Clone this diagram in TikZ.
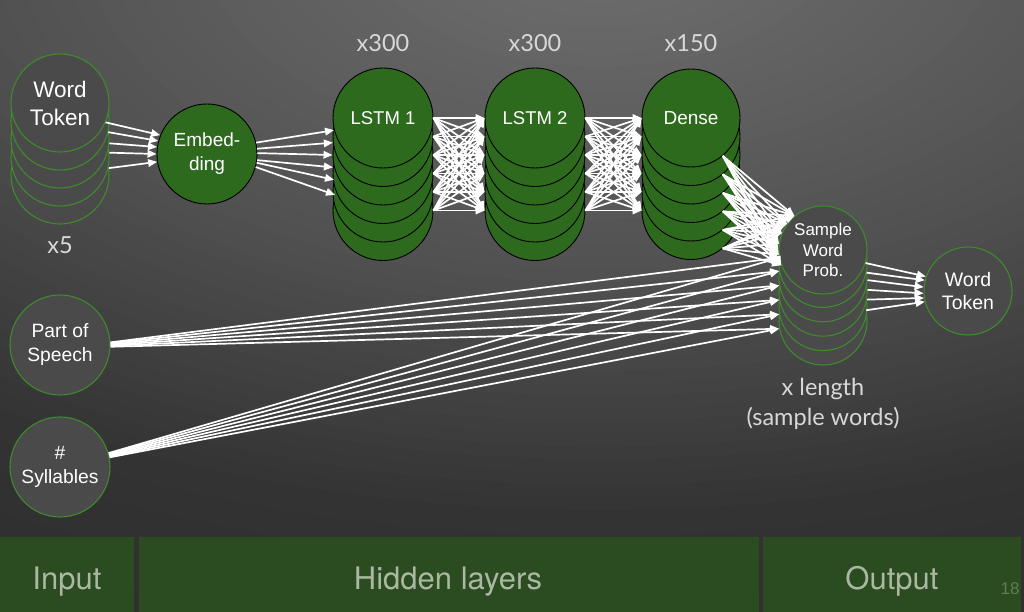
\documentclass[tikz,border=0pt]{standalone}
\usepackage{fontspec}
\setmainfont{Liberation Sans}
\newfontfamily\lblfont{Lato}
\newfontfamily\barfont{TeX Gyre Heros}
\usetikzlibrary{arrows.meta}
\definecolor{gfill}{HTML}{2D6A1E}
\definecolor{cfill}{HTML}{4A4A4A}
\definecolor{cedge}{HTML}{3E8A2C}
\definecolor{barfill}{HTML}{2B4B20}
\definecolor{bartxt}{HTML}{AAB8A2}
\definecolor{lbltxt}{HTML}{D8D8D8}
\definecolor{pagenum}{HTML}{5F7F50}
\tikzset{
  gcirc/.style={circle, draw=black, line width=0.9pt, fill=gfill, inner sep=0pt, minimum size=100pt, text=white, align=center},
  ycirc/.style={circle, draw=cedge, line width=1.1pt, fill=cfill, inner sep=0pt, text=white, align=center},
  arr/.style={draw=white, line width=1.7pt, -{Triangle[length=9pt,width=7.5pt]}},
  lbl/.style={text=lbltxt, font=\lblfont\fontsize{23.5}{29}\selectfont, align=center, inner sep=0pt},
  barbox/.style={fill=barfill},
  bartext/.style={text=bartxt, font=\barfont\fontsize{31}{34}\selectfont, inner sep=0pt, anchor=base},
}
\begin{document}
\begin{tikzpicture}[x=1pt,y=-1pt]
\useasboundingbox (0,0) rectangle (1024,612);
\begin{scope}
\clip (0,0) rectangle (1024,612);
\foreach \i in {60,59,...,1}{
  \pgfmathsetmacro\rr{\i/60}
  \pgfmathsetmacro\g{\rr<0.44 ? 0.44-0.273*\rr : (\rr<0.77 ? 0.32-0.364*(\rr-0.44) : 0.2-0.087*(\rr-0.77))}
  \definecolor{bgtmp}{gray}{\g}
  \fill[bgtmp] (600,-60) ellipse [x radius=\rr*1400pt, y radius=\rr*760pt];
}
\end{scope}

% bottom bars
\fill[barbox] (0,537) rectangle (134,612);
\fill[barbox] (139,537) rectangle (759,612);
\fill[barbox] (763,537) rectangle (1021,612);
\node[bartext] (inlbl) at (67,589) {Input};
\node[bartext] (hidlbl) at (448,589) {Hidden layers};
\node[bartext] (outlbl) at (892,589) {Output};
\node[text=pagenum, font=\fontsize{17}{18}\selectfont, inner sep=0pt] (pnum) at (1010,589) {18};

% input word token stack
\foreach \k in {4,3,2,1}{
  \node[ycirc, minimum size=98pt] (wt\k) at (60,{103+18*\k}) {};
}
\node[ycirc, minimum size=98pt, font=\fontsize{22.5}{28}\selectfont] (wt0) at (60,103) {Word\\Token};
\node[lbl] (x5) at (60,245) {x5};

% part of speech, syllables
\node[ycirc, minimum size=100pt, font=\fontsize{19.3}{24}\selectfont] (pos) at (60,345) {Part of\\Speech};
\node[ycirc, minimum size=100pt, font=\fontsize{19.3}{24}\selectfont] (syl) at (60,467) {\#\\Syllables};

% embedding
\node[gcirc, font=\fontsize{19}{24}\selectfont] (emb) at (207,154) {Embed-\\ding};

% LSTM 1
\foreach \k in {5,4,3,2,1}{
  \node[gcirc] (l1c\k) at (383,{118+18.5*\k}) {};
}
\node[gcirc, font=\fontsize{18.5}{22}\selectfont] (l1c0) at (383,118) {LSTM 1};
% LSTM 2
\foreach \k in {5,4,3,2,1}{
  \node[gcirc] (l2c\k) at (535,{118+18.5*\k}) {};
}
\node[gcirc, font=\fontsize{18.5}{22}\selectfont] (l2c0) at (535,118) {LSTM 2};
% Dense
\foreach \k in {5,4,3,2,1}{
  \node[gcirc, minimum size=98pt] (dc\k) at (691,{118+18.5*\k}) {};
}
\node[gcirc, minimum size=98pt, font=\fontsize{19}{22}\selectfont] (dc0) at (691,118) {Dense};

\node[lbl] (n1) at (383,43) {x300};
\node[lbl] (n2) at (535,43) {x300};
\node[lbl] (n3) at (691,43) {x150};

% sample word prob stack
\foreach \k in {5,4,3,2,1}{
  \node[ycirc, minimum size=88pt] (sc\k) at (823,{249+14.4*\k}) {};
}
\node[ycirc, minimum size=88pt, font=\fontsize{17}{20.5}\selectfont] (sc0) at (823,250) {Sample\\Word\\Prob.};
\node[lbl] (xlen) at (823,389) {x length};
\node[lbl] (xsw) at (823,418) {(sample words)};

% output word token
\node[ycirc, minimum size=88pt, font=\fontsize{19.5}{23}\selectfont] (out) at (968,291) {Word\\Token};

% ---- connectors ----
% word token -> embedding
\draw[arr] (wt0.-23) -- (emb.158);
\draw[arr] (wt1.-13) -- (emb.165);
\draw[arr] (wt2.-5) -- (emb.172);
\draw[arr] (wt3.5) -- (emb.180);
\draw[arr] (wt4.8) -- (emb.189);

% embedding -> LSTM 1
\draw[arr] (emb.13) -- (l1c0.194);
\draw[arr] (emb.6) -- (l1c1.187);
\draw[arr] (emb.1) -- (l1c2.180);
\draw[arr] (emb.-7) -- (l1c3.173);
\draw[arr] (emb.-10) -- (l1c4.166);
\draw[arr] (emb.-15) -- (l1c5.162);

% LSTM 1 -> LSTM 2, LSTM 2 -> Dense
\foreach \i in {0,...,5}{
  \foreach \j in {0,...,5}{
    \draw[arr] (l1c\i.east) -- (l2c\j.west);
    \draw[arr] (l2c\i.east) -- (dc\j.west);
  }
}

% Dense -> Sample
\foreach \i in {0,...,5}{
  \foreach \a in {130,144,158,172,186,200}{
    \draw[arr] (dc\i.-50) -- (sc0.\a);
  }
}

% POS, Syllables -> Sample
\foreach \j in {0,...,5}{
  \draw[arr] (pos.{3-\j}) -- (sc\j.190);
  \draw[arr] (syl.{16-\j}) -- (sc\j.190);
}

% Sample -> output
\draw[arr] (sc0.-17) -- (out.161);
\draw[arr] (sc1.-12) -- (out.166);
\draw[arr] (sc2.-3) -- (out.175);
\draw[arr] (sc3.3) -- (out.183);
\draw[arr] (sc4.9) -- (out.189);
\draw[arr] (sc5.14) -- (out.194);
\end{tikzpicture}
\end{document}
